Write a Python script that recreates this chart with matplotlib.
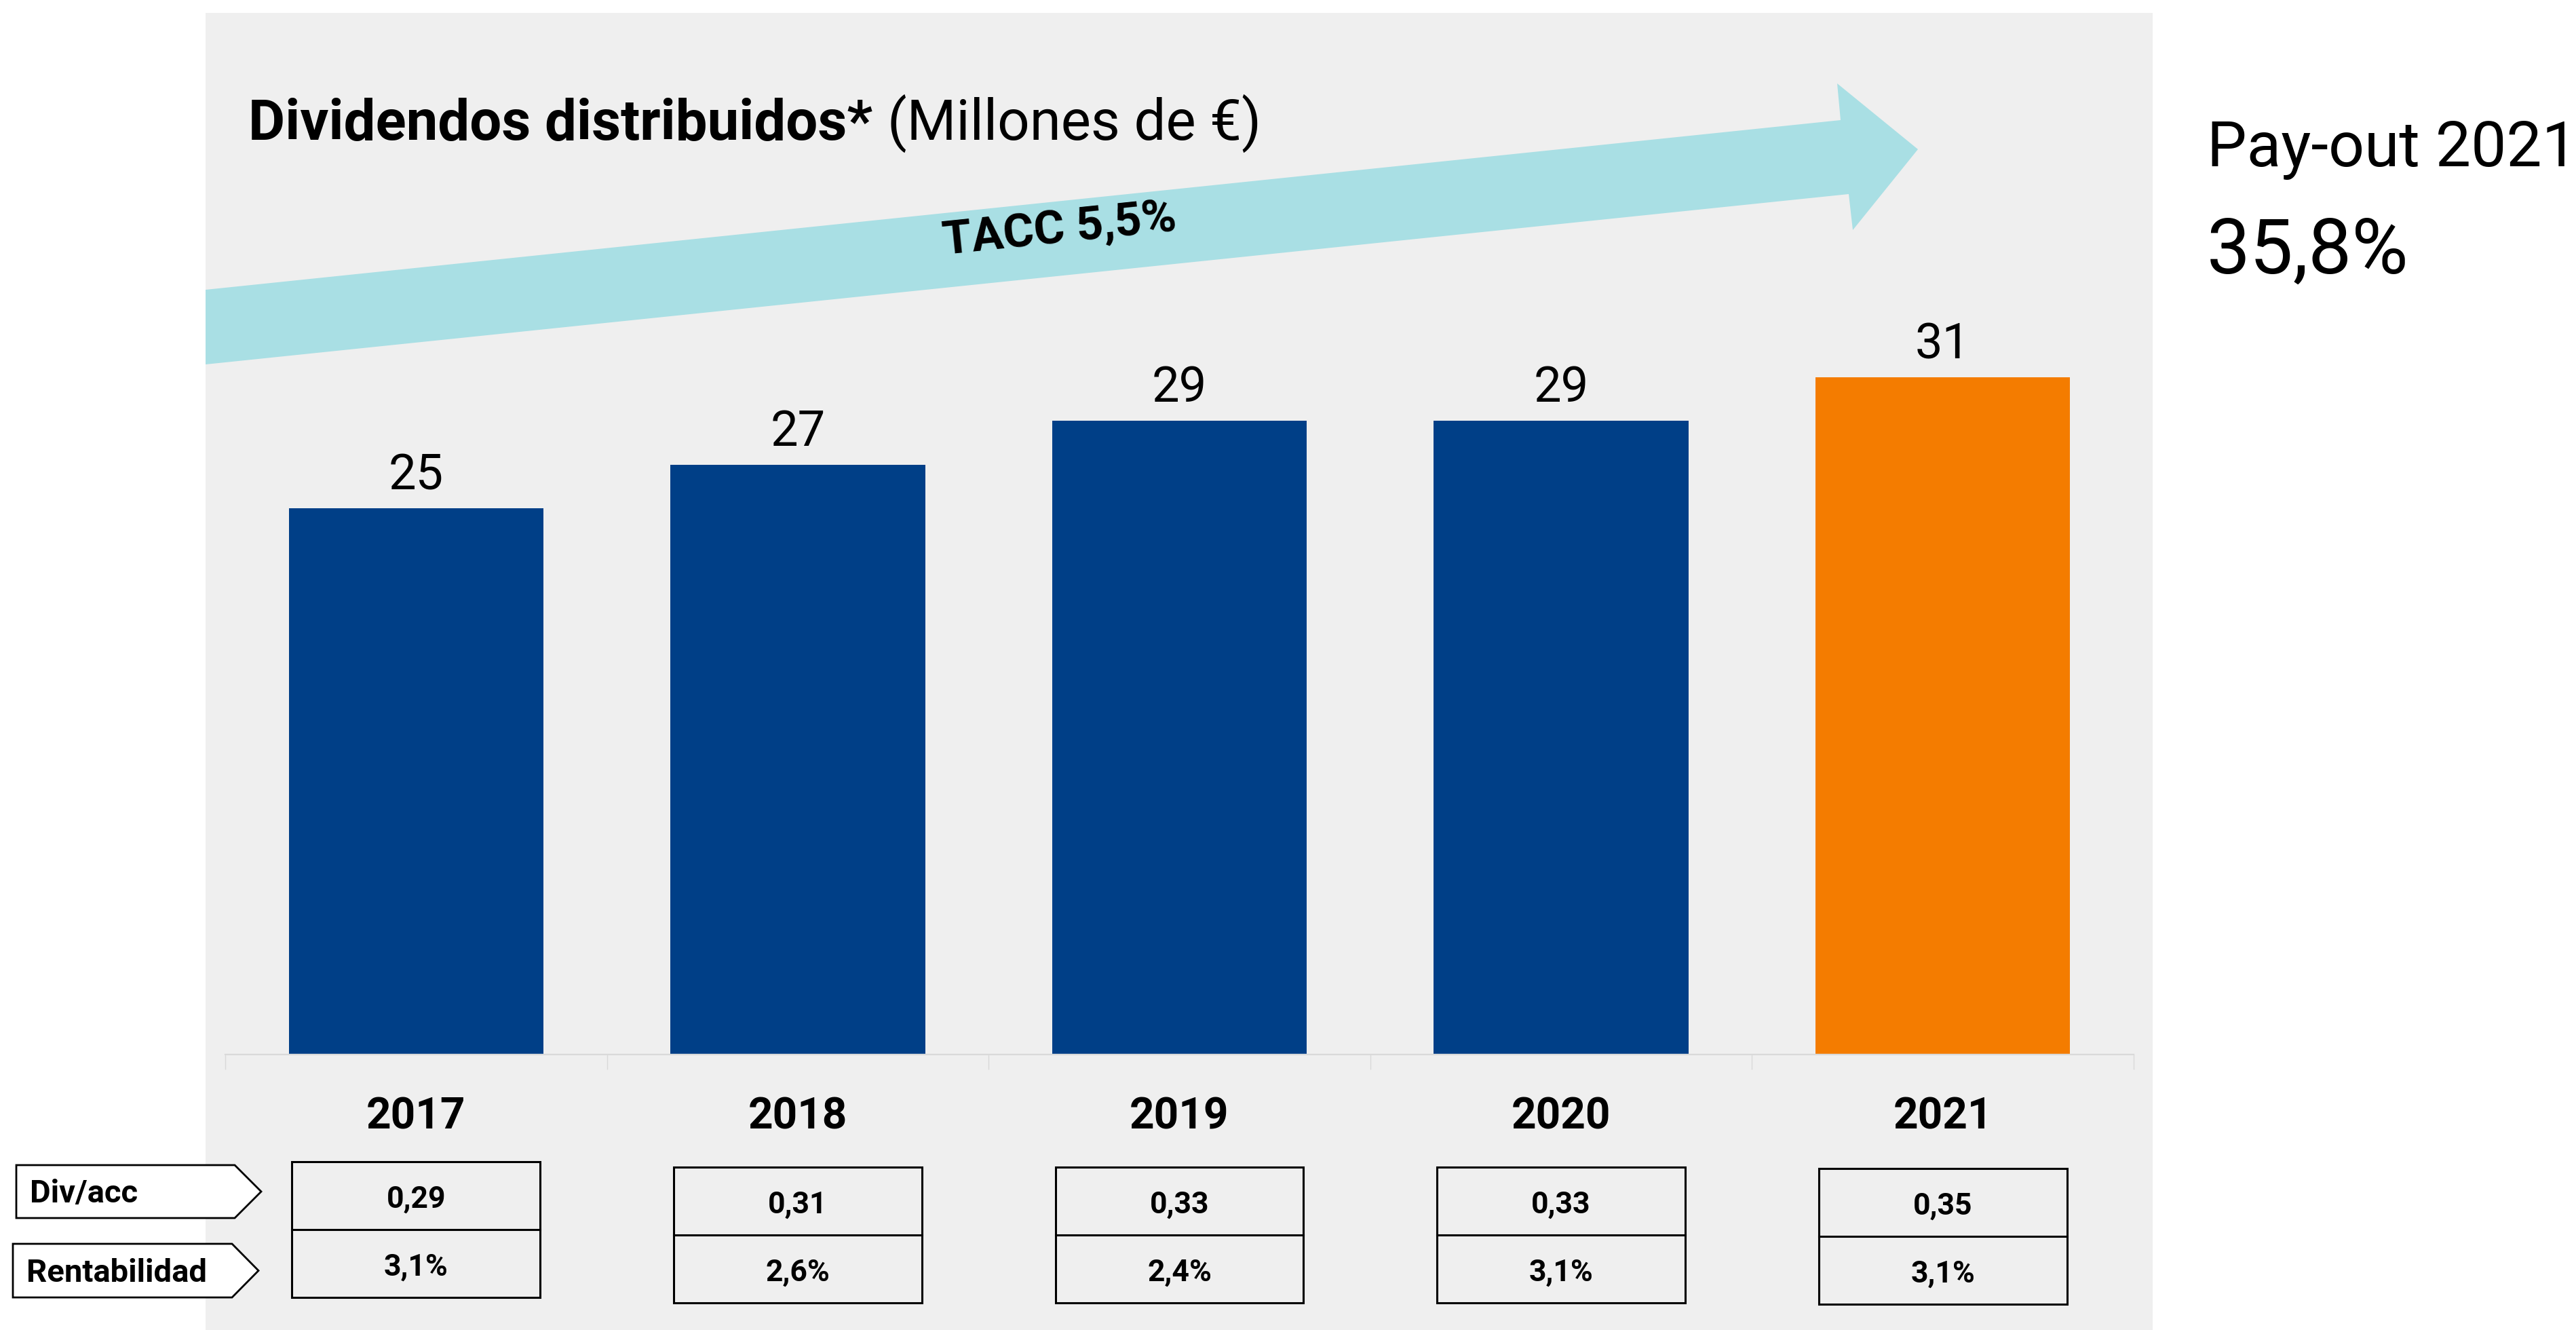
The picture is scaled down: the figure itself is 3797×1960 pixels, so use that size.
import matplotlib
matplotlib.use("Agg")
import matplotlib.pyplot as plt
from matplotlib.patches import Polygon, Rectangle
from matplotlib.transforms import blended_transform_factory
import numpy as np

plt.rcParams["font.family"] = ["Roboto", "DejaVu Sans"]

# data
years = ["2017", "2018", "2019", "2020", "2021"]
dividends = [25, 27, 29, 29, 31]
div_per_share = ["0,29", "0,31", "0,33", "0,33", "0,35"]
yield_pct = ["3,1%", "2,6%", "2,4%", "3,1%", "3,1%"]
row_labels = ["Div/acc", "Rentabilidad"]
bar_colors = ["#003F87", "#003F87", "#003F87", "#003F87", "#F47C00"]

W, H = 3798, 1960
fig = plt.figure(figsize=(W / 100, H / 100), dpi=100)
fig.patch.set_facecolor("white")

# background layer in pixel units
bg = fig.add_axes([0, 0, 1, 1], zorder=0)
bg.set_xlim(0, W)
bg.set_ylim(H, 0)
bg.axis("off")
bg.add_patch(Rectangle((303, 19), 3173 - 303, H - 19, color="#EFEFEF", lw=0))

# growth arrow
arrow = [(303, 427), (2713, 177), (2708, 123), (2827, 220),
         (2731, 339), (2725, 286), (303, 537)]
bg.add_patch(Polygon(arrow, closed=True, color="#A9DFE4", lw=0))
bg.text(1562, 339, "TACC 5,5%", rotation=5.9, ha="center", va="center",
        fontsize=50, fontweight="bold", rotation_mode="anchor")

# title
t1 = bg.text(366, 206, "Dividendos distribuidos*", fontsize=60,
             fontweight="bold", va="baseline", ha="left")
fig.canvas.draw()
bb = t1.get_window_extent()
x_next = bg.transData.inverted().transform((bb.x1 + 22, 0))[0]
bg.text(x_next, 206, "(Millones de €)", fontsize=60, va="baseline", ha="left")

# pay-out
bg.text(3253, 245, "Pay-out 2021", fontsize=67, va="baseline", ha="left")
bg.text(3253, 403, "35,8%", fontsize=82, va="baseline", ha="left")

# bar chart
ax = fig.add_axes([332 / W, 1 - 1554 / H, 2813 / W, (1554 - 266) / H], zorder=1)
ax.set_facecolor("none")
x = np.arange(len(years))
ax.bar(x, dividends, width=0.667, color=bar_colors, zorder=2)
ax.set_xlim(-0.5, len(years) - 0.5)
ax.set_ylim(0, 40)
for s in ["top", "left", "right"]:
    ax.spines[s].set_visible(False)
ax.spines["bottom"].set_color("#D9D9D9")
ax.spines["bottom"].set_linewidth(1.6)
ax.set_yticks([])
ax.set_xticks(np.arange(-0.5, len(years)))
ax.set_xticklabels([])
ax.tick_params(axis="x", length=16, width=1, color="#D9D9D9", direction="out")

for i, v in enumerate(dividends):
    ax.annotate(str(v), (i, v), xytext=(0, 34), textcoords="offset points",
                ha="center", va="center", fontsize=52)

trans = blended_transform_factory(ax.transData, bg.transData)
for i, yr in enumerate(years):
    bg.text(i, 1646, yr, transform=trans, ha="center", va="center",
            fontsize=46, fontweight="bold")

# table below
box_tops = [1712, 1720, 1720, 1720, 1722]
for i in range(len(years)):
    top = box_tops[i]
    bg.add_patch(Rectangle((i - 0.325, top), 0.65, 200, transform=trans,
                           fill=False, ec="black", lw=2.2))
    bg.plot([i - 0.325, i + 0.325], [top + 100, top + 100], transform=trans,
            color="black", lw=2.2)
    bg.text(i, top + 56, div_per_share[i], transform=trans, ha="center",
            va="center", fontsize=32, fontweight="bold")
    bg.text(i, top + 156, yield_pct[i], transform=trans, ha="center",
            va="center", fontsize=32, fontweight="bold")

# row labels
tags = [(24, 1717, 346, 385, 1795), (19, 1833, 342, 381, 1912)]
for (x0, y0, x1, tip, y1), lab in zip(tags, row_labels):
    ym = (y0 + y1) / 2
    bg.add_patch(Polygon([(x0, y0), (x1, y0), (tip, ym), (x1, y1), (x0, y1)],
                         closed=True, fc="white", ec="black", lw=2))
    bg.text(x0 + 20, ym + 3, lab, ha="left", va="center", fontsize=34,
            fontweight="bold")

fig.savefig("out.png", dpi=100)
